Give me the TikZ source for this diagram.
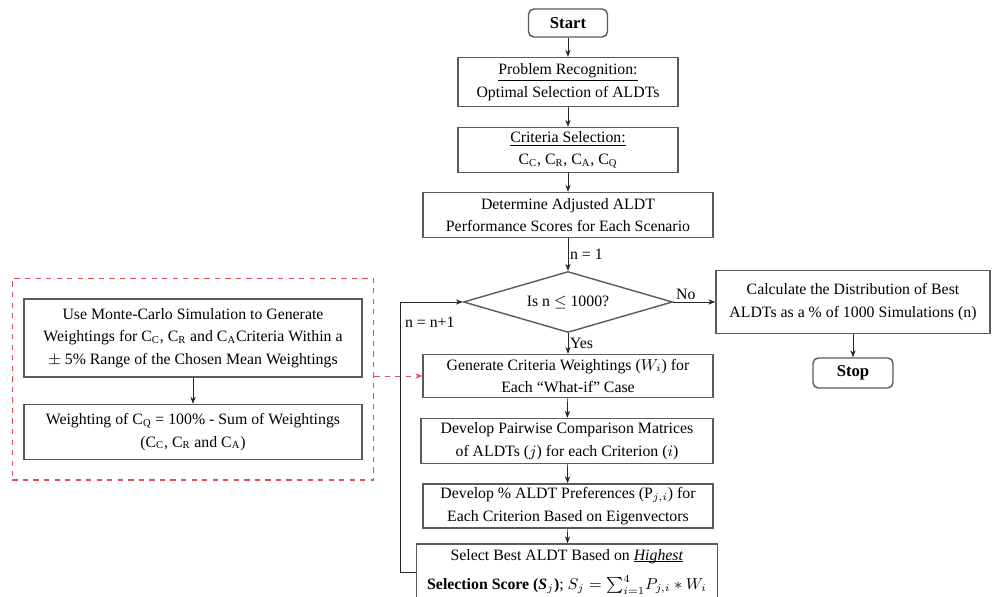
\documentclass[tikz,border=0pt]{standalone}
\usepackage{amsmath, amssymb}
\usepackage{fontspec}
\setmainfont{Liberation Serif}
\usepackage{xcolor}
\definecolor{boxgray}{RGB}{90, 90, 90}
\definecolor{dashred}{RGB}{228, 76, 90}
\usepackage{tikz}
\usetikzlibrary{
    shapes.geometric,
    arrows.meta,
    positioning,
    calc,
    fit
}

\begin{document}
\begin{tikzpicture}[
    x=0.02cm, y=-0.02cm,
    every text node part/.style={align=center},
    every node/.style={font=\fontsize{9}{12.8}\selectfont},
    procbox/.style={draw=boxgray, thick, fill=white, inner sep=2pt},
    termbox/.style={procbox, rounded corners=3pt, font=\fontsize{9.5}{12.5}\selectfont\bfseries},
    decbox/.style={draw=boxgray, thick, shape=diamond, shape aspect=3.4, inner sep=0pt},
    groupbox/.style={draw=dashred, thick, dashed, inner xsep=0.22cm, inner ysep=0.4cm},
    arr/.style={draw=black!85, -{Stealth[length=4pt, width=3pt]}},
    redarr/.style={draw=dashred, dashed, -{Stealth[length=4pt, width=3pt]}},
    lbl/.style={inner sep=1pt}
]
\useasboundingbox (0,0) rectangle (992,597);

% Main column
\node[termbox, minimum width=1.58cm, minimum height=0.56cm] (start) at (568,23) {Start};
\node[procbox, minimum width=4.4cm, minimum height=0.98cm] (prob) at (568,82)
    {\underline{Problem Recognition:}\\ Optimal Selection of ALDTs};
\node[procbox, minimum width=4.4cm, minimum height=0.9cm] (crit) at (568,150)
    {\underline{Criteria Selection:}\\ C$_\text{C}$, C$_\text{R}$, C$_\text{A}$, C$_\text{Q}$};
\node[procbox, minimum width=5.8cm, minimum height=0.9cm] (adj) at (568,215)
    {Determine Adjusted ALDT\\ Performance Scores for Each Scenario};
\node[decbox, minimum width=4.18cm, minimum height=1.22cm] (dec) at (568,302) {Is n $\leq$ 1000?};
\node[procbox, minimum width=5.8cm, minimum height=0.86cm] (gen) at (568,376)
    {Generate Criteria Weightings ($W_i$) for\\ Each ``What-if'' Case};
\node[procbox, minimum width=5.84cm, minimum height=0.9cm] (pair) at (567,441)
    {Develop Pairwise Comparison Matrices\\ of ALDTs ($j$) for each Criterion ($i$)};
\node[procbox, minimum width=5.8cm, minimum height=0.74cm] (pref) at (568,506)
    {Develop \% ALDT Preferences (P$_{j,i}$) for\\ Each Criterion Based on Eigenvectors};
\node[procbox, minimum width=6.02cm, minimum height=1.12cm] (sel) at (567,572)
    {Select Best ALDT Based on \textit{Highest}\\[4pt]
     \textbf{Selection Score (\textit{S$_j$})}; $S_j={\textstyle\sum_{i=1}^{4}}P_{j,i}*W_i$};
% underline of "Highest"
\draw[black, line width=0.4pt] ($(sel.north east)+(-20pt,-10.5pt)$) -- ++(-28pt,0);

% Exit branch
\node[procbox, minimum width=5.48cm, minimum height=1.26cm] (calc) at (853,302)
    {Calculate the Distribution of Best\\ ALDTs as a \% of 1000 Simulations (n)};
\node[termbox, minimum width=1.6cm, minimum height=0.6cm] (stop) at (853,373) {Stop};

% Monte-Carlo group
\node[procbox, minimum width=6.76cm, minimum height=1.56cm] (mc) at (193,338)
    {Use Monte-Carlo Simulation to Generate\\
     Weightings for C$_\text{C}$, C$_\text{R}$ and C$_\text{A}$Criteria Within a\\
     $\pm$ 5\% Range of the Chosen Mean Weightings};
\node[procbox, minimum width=6.76cm, minimum height=1.1cm] (wgt) at (193,432)
    {Weighting of C$_\text{Q}$ = 100\% - Sum of Weightings\\ (C$_\text{C}$, C$_\text{R}$ and C$_\text{A}$)};
\node[groupbox, fit=(mc)(wgt)] (grp) {};

% Connectors
\draw[arr] (start) -- (prob);
\draw[arr] (prob) -- (crit);
\draw[arr] (crit) -- (adj);
\draw[arr] (adj) -- node[lbl, right] {n = 1} (dec);
\draw[arr] (dec) -- node[lbl, right] {Yes} (gen);
\draw[arr] (dec.east) -- node[lbl, above, pos=0.3] {No} (calc.west);
\draw[arr] (calc.south -| stop.north) -- (stop.north);
\draw[arr] (gen) -- (pair);
\draw[arr] (pair) -- (pref);
\draw[arr] (pref) -- (sel);
\draw[arr] (mc) -- (wgt);
\draw[redarr] (grp.east |- gen.west) -- (gen.west);

% Loop back
\coordinate (loopx) at (400,0);
\draw[arr] (sel.west) -- (sel.west -| loopx) |- (dec.west);
\node[lbl, anchor=west] (incr) at (403,322) {n = n+1};

\end{tikzpicture}
\end{document}
